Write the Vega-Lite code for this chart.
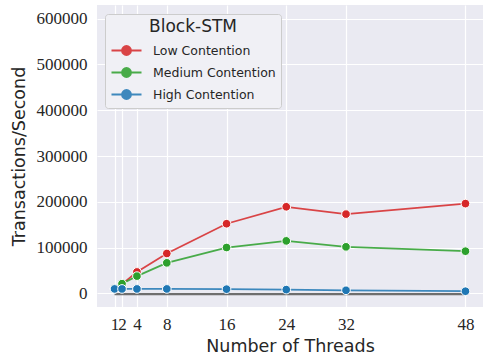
{
  "$schema": "https://vega.github.io/schema/vega-lite/v6.json",
  "width": 386,
  "height": 302,
  "autosize": "none",
  "padding": {"left": 97, "top": 5, "right": 0, "bottom": 47},
  "background": "white",
  "config": {
    "view": {"fill": "#EAEAF2", "stroke": null},
    "axis": {
      "domain": false,
      "ticks": false,
      "grid": true,
      "gridColor": "white",
      "gridWidth": 1.2,
      "labelFont": "Liberation Serif",
      "labelFontSize": 17,
      "labelColor": "#262626",
      "titleFont": "DejaVu Sans",
      "titleFontSize": 17.5,
      "titleFontWeight": "normal",
      "titleColor": "#262626",
      "labelOverlap": false,
      "labelFlush": false,
      "labelBound": false
    }
  },
  "datasets": {
    "series": [
      {"threads": 1, "tps": 10000, "workload": "Low Contention"},
      {"threads": 2, "tps": 20000, "workload": "Low Contention"},
      {"threads": 4, "tps": 46600, "workload": "Low Contention"},
      {"threads": 8, "tps": 87000, "workload": "Low Contention"},
      {"threads": 16, "tps": 152000, "workload": "Low Contention"},
      {"threads": 24, "tps": 189000, "workload": "Low Contention"},
      {"threads": 32, "tps": 173000, "workload": "Low Contention"},
      {"threads": 48, "tps": 196000, "workload": "Low Contention"},
      {"threads": 1, "tps": 10000, "workload": "Medium Contention"},
      {"threads": 2, "tps": 21000, "workload": "Medium Contention"},
      {"threads": 4, "tps": 37500, "workload": "Medium Contention"},
      {"threads": 8, "tps": 66500, "workload": "Medium Contention"},
      {"threads": 16, "tps": 100000, "workload": "Medium Contention"},
      {"threads": 24, "tps": 114500, "workload": "Medium Contention"},
      {"threads": 32, "tps": 101500, "workload": "Medium Contention"},
      {"threads": 48, "tps": 92000, "workload": "Medium Contention"},
      {"threads": 1, "tps": 9500, "workload": "High Contention"},
      {"threads": 2, "tps": 9500, "workload": "High Contention"},
      {"threads": 4, "tps": 9500, "workload": "High Contention"},
      {"threads": 8, "tps": 9500, "workload": "High Contention"},
      {"threads": 16, "tps": 9000, "workload": "High Contention"},
      {"threads": 24, "tps": 8000, "workload": "High Contention"},
      {"threads": 32, "tps": 6500, "workload": "High Contention"},
      {"threads": 48, "tps": 4500, "workload": "High Contention"}
    ],
    "base": [
      {"threads": 1, "tps": -2000},
      {"threads": 48, "tps": -2000}
    ]
  },
  "layer": [
    {
      "data": {"name": "base"},
      "mark": {"type": "line", "color": "#6E6E6E", "strokeWidth": 2.2},
      "encoding": {
        "x": {"field": "threads", "type": "quantitative"},
        "y": {"field": "tps", "type": "quantitative"}
      }
    },
    {
      "data": {"name": "series"},
      "mark": {"type": "line", "strokeWidth": 1.8, "opacity": 0.85},
      "encoding": {
        "x": {
          "field": "threads",
          "type": "quantitative",
          "scale": {"domain": [-1.35, 50.35], "nice": false, "zero": false},
          "axis": {"values": [1, 2, 4, 8, 16, 24, 32, 48], "title": "Number of Threads", "labelFont": "Liberation Serif", "labelPadding": 9, "titleBaseline": "alphabetic", "titleY": 44}
        },
        "y": {
          "field": "tps",
          "type": "quantitative",
          "scale": {"domain": [-30000, 630000], "nice": false, "zero": false},
          "axis": {"values": [0, 100000, 200000, 300000, 400000, 500000, 600000], "format": "d", "title": "Transactions/Second", "labelFont": "Liberation Serif", "labelPadding": 10, "titleBaseline": "alphabetic", "titleX": -73, "titleAngle": -90}
        },
        "color": {
          "field": "workload",
          "type": "nominal",
          "sort": ["Low Contention", "Medium Contention", "High Contention"],
          "scale": {"domain": ["Low Contention", "Medium Contention", "High Contention"], "range": ["#D62728", "#2CA02C", "#1F77B4"]},
          "legend": {
            "title": "Block-STM",
            "orient": "none",
            "legendX": 8,
            "legendY": 9,
            "fillColor": "#F0F0F5",
            "strokeColor": "#CCCCCC",
            "cornerRadius": 3,
            "padding": 5,
            "titleFont": "DejaVu Sans",
            "titleFontSize": 17,
            "titleFontWeight": "normal",
            "titleColor": "#262626",
            "titleAnchor": "middle",
            "titlePadding": 6,
            "labelFont": "DejaVu Sans",
            "labelFontSize": 12.5,
            "labelColor": "#262626",
            "labelOffset": 18,
            "rowPadding": 5,
            "symbolType": "M-2,0H-0.6M0.6,0H2M0.6,0A0.6,0.6,0,1,1,-0.6,0A0.6,0.6,0,1,1,0.6,0Z",
            "symbolSize": 225,
            "symbolOffset": 8,
            "symbolStrokeWidth": 1.8,
            "encode": {
              "symbols": {
                "update": {
                  "stroke": {"scale": "color", "field": "value"},
                  "fill": {"scale": "color", "field": "value"},
                  "opacity": {"value": 1}
                }
              }
            }
          }
        }
      }
    },
    {
      "data": {"name": "series"},
      "mark": {"type": "point", "filled": true, "size": 75, "stroke": "white", "strokeWidth": 1, "opacity": 1},
      "encoding": {
        "x": {"field": "threads", "type": "quantitative"},
        "y": {"field": "tps", "type": "quantitative"},
        "color": {"field": "workload", "type": "nominal", "sort": ["Low Contention", "Medium Contention", "High Contention"]}
      }
    }
  ]
}
